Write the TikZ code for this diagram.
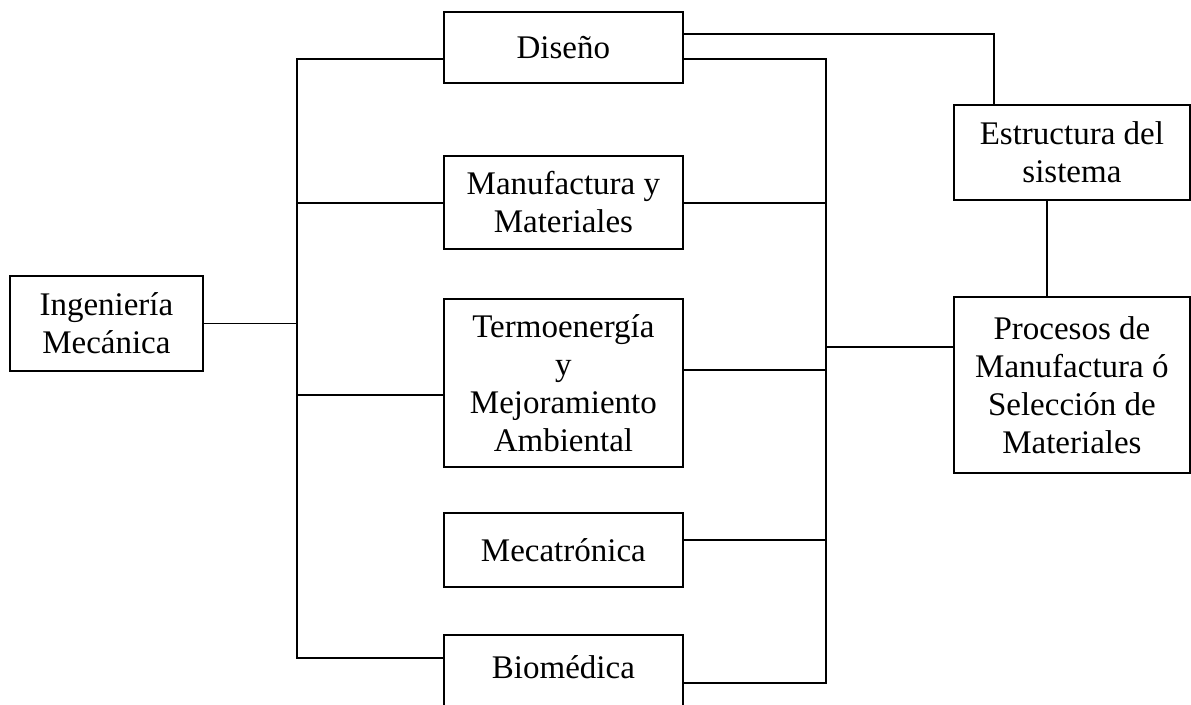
\documentclass[tikz,border=0pt]{standalone}
\usepackage{fontspec}
\setmainfont{Liberation Serif}
\begin{document}
\begin{tikzpicture}[x=1pt,y=-1pt,
  box/.style={draw, line width=1.8pt, inner sep=0pt, anchor=north west,
    align=center, font=\fontsize{33}{38}\selectfont},
  label/.style={inner sep=0pt, align=center, font=\fontsize{33}{38}\selectfont},
  wire/.style={line width=1.8pt}]
\useasboundingbox (0,0) rectangle (1191,704);
\clip (0,0) rectangle (1191,704);

% bus lines
\coordinate (L) at (297,0);
\coordinate (R) at (826,0);

% boxes
\node[box, minimum width=193pt, minimum height=95pt]  (ing) at (9,275)   {Ingeniería\\Mecánica};
\node[box, minimum width=239pt, minimum height=71pt]  (dis) at (443,11)  {Diseño};
\node[box, minimum width=239pt, minimum height=93pt]  (man) at (443,155) {Manufactura y\\Materiales};
\node[box, minimum width=239pt, minimum height=168pt] (ter) at (443,298) {Termoenergía\\y\\Mejoramiento\\Ambiental};
\node[box, minimum width=239pt, minimum height=74pt]  (mec) at (443,512) {Mecatrónica};
\node[box, minimum width=239pt, minimum height=120pt] (bio) at (443,634) {};
\node[label] (biot) at ([yshift=-33pt]bio.north) {Biomédica};
\node[box, minimum width=236pt, minimum height=95pt]  (est) at (953,104) {Estructura del\\sistema};
\node[box, minimum width=236pt, minimum height=176pt] (pro) at (953,296) {Procesos de\\Manufactura ó\\Selección de\\Materiales};

% left bus and its branches
\draw[wire] ([yshift=-48pt]dis.north west) -| ([yshift=-24pt]L |- bio.north west) -- ([yshift=-24pt]bio.north west);
\draw[wire] ([yshift=-48pt]man.north west) -- ([yshift=-48pt]man.north west -| L);
\draw[wire] (ing.east) -- (ing.east -| L);
\draw[wire] ([yshift=-97pt]ter.north west) -- ([yshift=-97pt]ter.north west -| L);

% right bus and its branches
\draw[wire] ([yshift=-48pt]dis.north east) -| ([yshift=-49pt]R |- bio.north east) -- ([yshift=-49pt]bio.north east);
\draw[wire] ([yshift=-48pt]man.north east) -- ([yshift=-48pt]man.north east -| R);
\draw[wire] ([yshift=-72pt]ter.north east) -- ([yshift=-72pt]ter.north east -| R);
\draw[wire] ([yshift=-28pt]mec.north east) -- ([yshift=-28pt]mec.north east -| R);
\draw[wire] ([yshift=-51pt]pro.north west) -- ([yshift=-51pt]pro.north west -| R);

% upper branch to the system structure
\coordinate (up) at (994,0);
\draw[wire] ([yshift=-23pt]dis.north east) -| (up |- est.north);
\coordinate (mid) at (1047,0);
\draw[wire] (mid |- est.south) -- (mid |- pro.north);
\end{tikzpicture}
\end{document}
